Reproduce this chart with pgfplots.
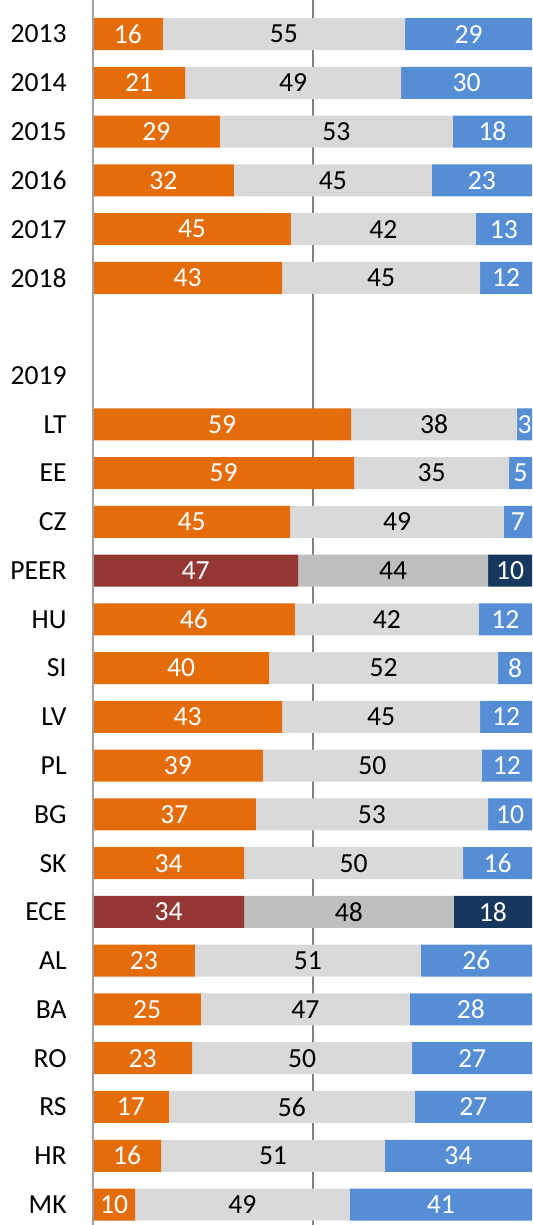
\documentclass[border=0pt]{standalone}
\usepackage{pgfplots}
\pgfplotsset{compat=1.18}
\usepackage{pgfplotstable}
\usepackage{fontspec}
\setmainfont{Carlito}
\definecolor{cor}{HTML}{E46C0A}
\definecolor{cgr}{HTML}{D9D9D9}
\definecolor{cbl}{HTML}{558ED5}
\definecolor{hor}{HTML}{953735}
\definecolor{hgr}{HTML}{BFBFBF}
\definecolor{hbl}{HTML}{17375E}
\definecolor{axg}{HTML}{7F7F7F}
\definecolor{axl}{HTML}{A0A0A0}

\pgfplotstableread{
y  o    g    b    ol gl bl
0  15.9 55.2 28.9 16 55 29
1  21.0 49.2 29.8 21 49 30
2  28.9 53.1 18.0 29 53 18
3  32.1 45.1 22.8 32 45 23
4  45.1 42.1 12.8 45 42 13
5  43.1 45.1 11.8 43 45 12
8  58.8 37.8 3.4  59 38 3
9  59.5 35.3 5.2  59 35 5
10 44.9 48.7 6.4  45 49 7
12 46.0 41.9 12.1 46 42 12
13 40.1 52.2 7.7  40 52 8
14 43.1 45.1 11.8 43 45 12
15 38.7 49.9 11.4 39 50 12
16 37.1 52.9 10.0 37 53 10
17 34.4 49.9 15.7 34 50 16
19 23.2 51.5 25.3 23 51 26
20 24.6 47.6 27.8 25 47 28
21 22.6 50.1 27.3 23 50 27
22 17.3 56.0 26.7 17 56 27
23 15.5 51.0 33.5 16 51 34
24 9.6  48.9 41.5 10 49 41
}\dataA

\pgfplotstableread{
y  o    g    b    ol gl bl
11 46.7 43.3 10.0 47 44 10
18 34.4 47.8 17.8 34 48 18
}\dataB

\pgfplotsset{
  base/.style={
    at={(0,0)}, anchor=south west,
    scale only axis, width=219.5pt, height=612.5pt,
    xmin=0, xmax=100, ymin=-0.70, ymax=24.42, y dir=reverse,
    font=\fontsize{13.8pt}{16pt}\selectfont,
    axis line style={draw=none}, tick style={draw=none},
  },
  lbl/.style={draw=none, mark=none, nodes near coords, point meta=explicit symbolic,
    every node near coord/.append style={anchor=center, text=#1,
      font=\fontsize{13.8pt}{16pt}\selectfont}},
}

\begin{document}
\begin{tikzpicture}
\useasboundingbox (-46.5pt,0) rectangle (219.5pt,612.5pt);
\begin{axis}[base, xbar stacked, bar width=16pt,
  xtick={50}, xticklabels={}, xmajorgrids,
  major grid style={axg, line width=1pt},
  ytick={0,1,2,3,4,5,7,8,9,10,11,12,13,14,15,16,17,18,19,20,21,22,23,24},
  yticklabels={2013,2014,2015,2016,2017,2018,2019,LT,EE,CZ,PEER,HU,SI,LV,PL,BG,SK,ECE,AL,BA,RO,RS,HR,MK},
  yticklabel style={anchor=east, inner sep=0pt, xshift=-13pt}]
\addplot[fill=cor, draw=none] table[x=o, y=y] {\dataA};
\addplot[fill=cgr, draw=none] table[x=g, y=y] {\dataA};
\addplot[fill=cbl, draw=none] table[x=b, y=y] {\dataA};
\end{axis}
\begin{axis}[base, hide axis, xbar stacked, bar width=16pt]
\addplot[fill=hor, draw=none] table[x=o, y=y] {\dataB};
\addplot[fill=hgr, draw=none] table[x=g, y=y] {\dataB};
\addplot[fill=hbl, draw=none] table[x=b, y=y] {\dataB};
\end{axis}
\begin{axis}[base, xtick={0}, xticklabels={}, ytick=\empty, xmajorgrids,
  major grid style={axl, line width=1pt}]
\addplot[lbl=white] table[x expr=\thisrow{o}/2, y=y, meta=ol] {\dataA};
\addplot[lbl=black] table[x expr=\thisrow{o}+\thisrow{g}/2, y=y, meta=gl] {\dataA};
\addplot[lbl=white] table[x expr=\thisrow{o}+\thisrow{g}+\thisrow{b}/2, y=y, meta=bl] {\dataA};
\addplot[lbl=white] table[x expr=\thisrow{o}/2, y=y, meta=ol] {\dataB};
\addplot[lbl=black] table[x expr=\thisrow{o}+\thisrow{g}/2, y=y, meta=gl] {\dataB};
\addplot[lbl=white] table[x expr=\thisrow{o}+\thisrow{g}+\thisrow{b}/2, y=y, meta=bl] {\dataB};
\end{axis}
\end{tikzpicture}
\end{document}
